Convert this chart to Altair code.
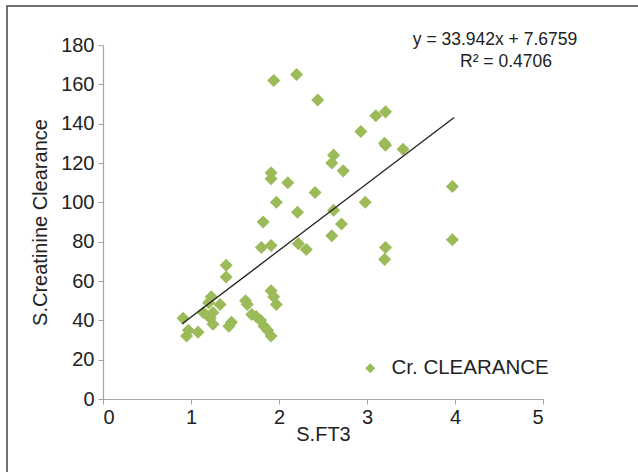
import altair as alt
import pandas as pd

sft3 = [0.91, 0.95, 0.97, 1.08, 1.14, 1.20, 1.23, 1.25, 1.22, 1.25, 1.33, 1.40, 1.40, 1.43, 1.46,
        1.62, 1.64, 1.69, 1.74, 1.79, 1.83, 1.87, 1.91, 1.91, 1.94, 1.97,
        1.91, 1.91, 2.10, 2.41, 1.97, 2.21, 1.82, 1.80, 1.91, 2.22, 2.31, 2.62, 2.71, 2.60, 2.98,
        2.60, 2.62, 2.73,
        1.94, 2.20, 2.44, 3.10, 3.21, 2.93, 3.20, 3.21, 3.41,
        3.97, 3.97, 3.21, 3.20]
clearance = [41, 32, 35, 34, 44, 49, 52, 44, 41, 38, 48, 68, 62, 37, 39,
             50, 48, 43, 42, 40, 37, 35, 32, 55, 52, 48,
             115, 112, 110, 105, 100, 95, 90, 77, 78, 79, 76, 96, 89, 83, 100,
             120, 124, 116,
             162, 165, 152, 144, 146, 136, 130, 129, 127,
             108, 81, 77, 71]

slope = 33.942
intercept = 7.6759
trend_x = [0.9, 3.99]

series_name = "Cr. CLEARANCE"
x_ticks = [0, 1, 2, 3, 4, 5]
y_ticks = [0, 20, 40, 60, 80, 100, 120, 140, 160, 180]

df = pd.DataFrame({"x": sft3, "y": clearance, "s": series_name})
trend = pd.DataFrame({"x": trend_x, "y": [slope * v + intercept for v in trend_x]})

FONT = "Liberation Sans"
GREEN = "#9bbb59"

xs = alt.Scale(domain=[0, 5], nice=False, zero=True)
ys = alt.Scale(domain=[0, 180], nice=False)
xaxis = alt.Axis(values=x_ticks, format="d", grid=False, labelOverlap=False)
yaxis = alt.Axis(values=y_ticks, format="d", grid=False, labelOverlap=False)

frame = alt.Chart(pd.DataFrame({"a": [0]})).mark_rect(
    fill=None, stroke="#444444", strokeWidth=1.5
).encode(
    x=alt.value(-96), x2=alt.value(540),
    y=alt.value(-39), y2=alt.value(432)
)

points = alt.Chart(df).mark_point(
    shape="diamond", filled=True, size=170, opacity=1
).encode(
    x=alt.X("x:Q", scale=xs, title="S.FT3", axis=xaxis),
    y=alt.Y("y:Q", scale=ys, title="S.Creatinine Clearance", axis=yaxis),
    color=alt.Color("s:N", scale=alt.Scale(range=[GREEN]),
                    legend=alt.Legend(title=None, orient="none", legendX=257, legendY=313,
                                      symbolType="diamond", symbolSize=100,
                                      labelFontSize=20.5, labelFont=FONT, labelColor="#222222",
                                      labelOffset=11, labelLimit=300))
)

line = alt.Chart(trend).mark_line(color="#222222", strokeWidth=1.3).encode(
    x=alt.X("x:Q", scale=xs, title="S.FT3", axis=xaxis),
    y=alt.Y("y:Q", scale=ys, title="S.Creatinine Clearance", axis=yaxis)
)

eq = alt.Chart(pd.DataFrame({"t": ["y = 33.942x + 7.6759", "R² = 0.4706"],
                             "px": [392, 403], "py": [-5, 17]})).mark_text(
    fontSize=17.5, font=FONT, color="#222222", align="center", baseline="middle"
).encode(text="t:N", x=alt.X("px:Q", scale=None), y=alt.Y("py:Q", scale=None))

chart = alt.layer(frame, points, line, eq).properties(
    width=440, height=354,
    background="white",
    autosize=alt.AutoSizeParams(type="none"),
    padding={"left": 103, "top": 45, "right": 95, "bottom": 73}
).configure_view(stroke=None).configure_axis(
    domainColor="#a6a6a6", tickColor="#a6a6a6", tickSize=5, domainWidth=1.2,
    labelFont=FONT, labelFontSize=20, labelColor="#222222",
    titleFont=FONT, titleFontSize=20, titleColor="#222222", titleFontWeight="normal"
).configure_axisX(labelPadding=3, titlePadding=-3).configure_axisY(
    labelPadding=4, titlePadding=10
)

chart.save("out.html", embed_options={"renderer": "svg", "actions": False})
